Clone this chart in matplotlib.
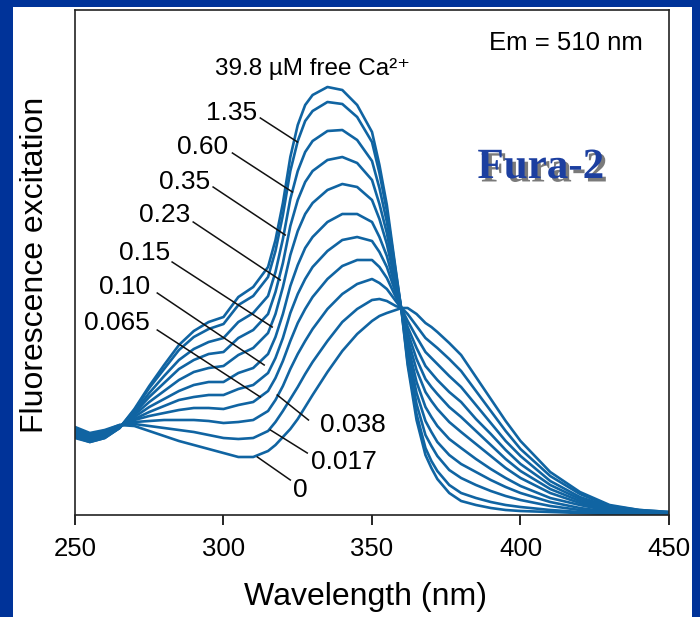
import numpy as np
import matplotlib.pyplot as plt
import matplotlib.patheffects as pe
from matplotlib.patches import Rectangle

plt.rcParams['font.family'] = ['Liberation Sans', 'DejaVu Sans']

# wavelength grid (nm)
wl = [250, 255, 260, 265, 270, 275, 280, 285, 290, 295, 300, 305, 310, 315, 317.5,
      320, 322.5, 325, 327.5, 330, 335, 340, 345, 350, 352.5, 355, 358, 360, 362,
      365, 368, 370, 372, 376, 380, 385, 390, 395, 400, 410, 420, 430, 440, 450]

# fluorescence excitation (a.u.), one list per free [Ca2+]
ca_0 = [88, 82, 85, 90, 89, 84, 79, 74, 70, 66, 62, 58, 58, 64, 70,
        78, 86, 96, 108, 120, 143, 164, 181, 194, 199, 202, 205, 207, 207,
        201, 192, 188, 183, 172, 160, 138, 116, 94, 74, 43, 23, 10, 5, 3]
ca_0017 = [87, 81, 84, 90, 91, 89, 87, 85, 83, 80, 77, 76, 77, 84, 93,
           104, 116, 128, 141, 153, 174, 193, 206, 215, 216, 214, 209, 207, 201,
           189, 177, 172, 167, 156, 144, 124, 104, 84, 66, 39, 21, 9, 5, 3]
ca_0038 = [86, 80, 83, 89, 93, 94, 95, 95, 95, 94, 92, 93, 95, 104, 115,
           129, 146, 161, 174, 186, 206, 221, 231, 236, 232, 226, 214, 206, 194,
           178, 163, 157, 151, 139, 128, 110, 92, 74, 59, 34, 18, 8, 4, 2]
ca_0065 = [84, 79, 82, 89, 95, 99, 102, 105, 107, 107, 106, 110, 113, 124, 137,
           154, 174, 192, 206, 218, 236, 249, 255, 255, 248, 237, 218, 206, 188,
           167, 149, 142, 135, 123, 113, 96, 81, 65, 51, 30, 16, 7, 4, 2]
ca_010 = [83, 78, 82, 89, 96, 103, 109, 115, 118, 120, 120, 126, 130, 142, 157,
          177, 202, 221, 236, 248, 264, 275, 278, 274, 263, 248, 222, 205, 183,
          156, 136, 128, 121, 108, 98, 84, 70, 56, 44, 26, 14, 6, 3, 2]
ca_015 = [82, 77, 81, 88, 98, 108, 116, 124, 130, 133, 133, 142, 147, 161, 178,
          201, 229, 250, 267, 278, 293, 301, 301, 293, 278, 259, 226, 205, 177,
          145, 123, 114, 106, 93, 83, 71, 59, 47, 37, 22, 12, 5, 3, 1]
ca_023 = [81, 76, 80, 88, 100, 113, 124, 135, 143, 147, 149, 160, 167, 182, 201,
          228, 260, 284, 301, 312, 325, 331, 328, 315, 296, 271, 231, 204, 171,
          133, 108, 98, 89, 76, 67, 56, 46, 37, 29, 17, 10, 4, 2, 1]
ca_035 = [80, 75, 79, 88, 102, 118, 132, 146, 155, 161, 163, 177, 185, 201, 223,
          252, 289, 315, 333, 344, 355, 358, 352, 335, 311, 282, 235, 204, 165,
          122, 94, 83, 73, 60, 51, 43, 35, 28, 22, 13, 7, 3, 2, 1]
ca_060 = [79, 74, 78, 87, 103, 122, 139, 155, 166, 173, 177, 193, 202, 219, 243,
          276, 316, 344, 363, 374, 384, 385, 375, 354, 327, 293, 239, 204, 159,
          111, 80, 69, 59, 45, 37, 30, 24, 19, 15, 9, 5, 2, 2, 1]
ca_135 = [78, 73, 77, 87, 105, 127, 146, 165, 178, 186, 191, 210, 219, 238, 264,
          300, 344, 374, 394, 404, 413, 411, 398, 373, 342, 304, 243, 203, 153,
          101, 67, 54, 44, 30, 22, 17, 13, 10, 8, 5, 3, 1, 1, 0]
ca_398 = [77, 73, 77, 87, 106, 129, 150, 170, 184, 193, 198, 218, 228, 248, 275,
          312, 358, 390, 410, 420, 428, 425, 410, 383, 350, 310, 245, 203, 150,
          95, 60, 47, 36, 22, 14, 10, 7, 5, 4, 3, 2, 1, 1, 0]

curves = [ca_0, ca_0017, ca_0038, ca_0065, ca_010, ca_015, ca_023, ca_035, ca_060, ca_135, ca_398]

labels = ['1.35', '0.60', '0.35', '0.23', '0.15', '0.10', '0.065', '0.038', '0.017', '0']

line_col = '#1064a2'

fig = plt.figure(figsize=(7.0, 6.17), dpi=100, facecolor='#003399')
fig.patches.append(Rectangle((13 / 700, 0), 679 / 700, 1 - 7 / 617,
                             transform=fig.transFigure, facecolor='white',
                             edgecolor='none', zorder=-5))

ax = fig.add_axes([75 / 700, 1 - 515 / 617, 594 / 700, 505 / 617])
ax.set_facecolor('white')

for c in curves:
    ax.plot(wl, c, color=line_col, lw=1.9, solid_joinstyle='round', solid_capstyle='round')

ax.set_xlim(250, 450)
ax.set_ylim(0, 505)
ax.set_xticks([250, 300, 350, 400, 450])
ax.set_yticks([])
ax.tick_params(axis='x', direction='out', length=7, width=1.2, labelsize=18.5, pad=9)
for s in ax.spines.values():
    s.set_linewidth(1.2)
    s.set_color('#222222')

fig.text(365 / 700, 1 - 597 / 617, 'Wavelength (nm)', ha='center', va='center', fontsize=23)
fig.text(35 / 700, 1 - 265 / 617, 'Fluorescence excitation', ha='center', va='center',
         rotation=90, fontsize=23)

ax.text(330.0, 446, '39.8 µM free Ca²⁺', ha='center', va='center', fontsize=17.5)
ax.text(415.3, 472, 'Em = 510 nm', ha='center', va='center', fontsize=18.5)
ax.text(406.8, 347, 'Fura-2', ha='center', va='center', fontsize=31, color='#1c3fa0',
        family='Liberation Serif', weight='bold',
        path_effects=[pe.withSimplePatchShadow(offset=(2.5, -2.5), shadow_rgbFace='#222222', alpha=0.6)])

left_pos = [(311.4, 402), (301.6, 368), (295.5, 333), (288.8, 300), (282.0, 262),
            (275.3, 228), (275.3, 192)]
left_lines = [((312.4, 397), (324.9, 373)), ((303.0, 362), (323.2, 323)),
              ((296.5, 328), (320.8, 280)), ((289.8, 293), (319.1, 235)),
              ((282.7, 253), (316.4, 188)), ((277.7, 222), (313.7, 150)),
              ((277.7, 185), (312.4, 118))]
right_pos = [(332.6, 90), (329.3, 53), (323.5, 25)]
right_lines = [((318.1, 120), (328.6, 95)), ((315.8, 85), (328.2, 62)),
               ((311.4, 58), (322.5, 35))]

for lab, p, ln in zip(labels[:7], left_pos, left_lines):
    ax.text(p[0], p[1], lab, ha='right', va='center', fontsize=19)
    ax.plot([ln[0][0], ln[1][0]], [ln[0][1], ln[1][1]], color='#111111', lw=1.1)
for lab, p, ln in zip(labels[7:], right_pos, right_lines):
    ax.text(p[0], p[1], lab, ha='left', va='center', fontsize=19)
    ax.plot([ln[0][0], ln[1][0]], [ln[0][1], ln[1][1]], color='#111111', lw=1.1)

fig.savefig('out.png', dpi=100, facecolor=fig.get_facecolor())
